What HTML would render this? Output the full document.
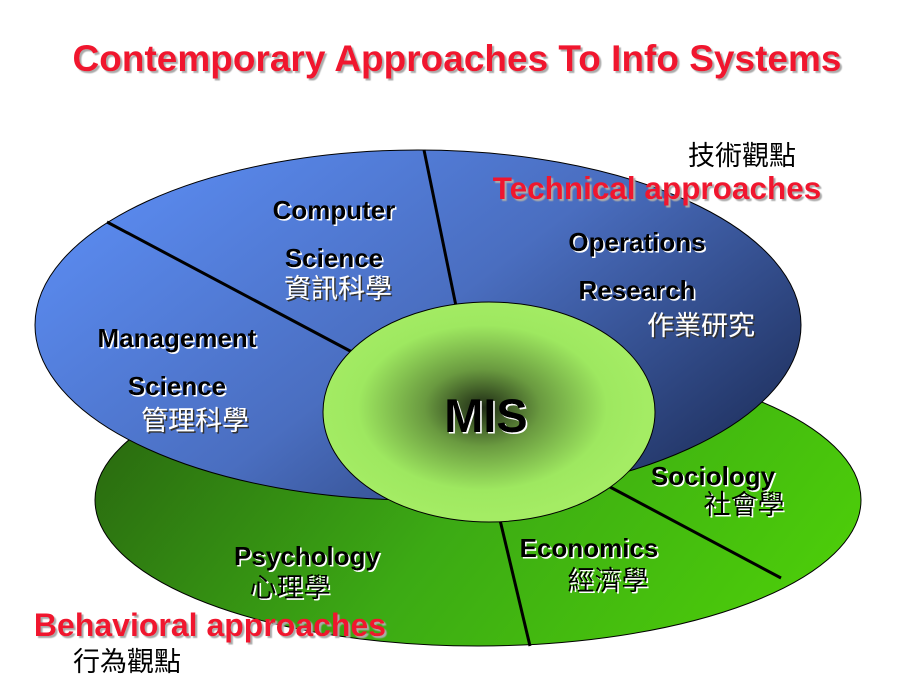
<!DOCTYPE html>
<html><head><meta charset="utf-8"><style>
body{margin:0;background:#fff;}
svg{display:block;}
text{font-family:"Liberation Sans","Noto Sans CJK TC",sans-serif;}
.lb{font-weight:bold;font-size:26px;fill:#000;filter:url(#sh);}
.cw{font-size:27px;fill:#fff;filter:url(#shd);}
.cb{font-size:27px;fill:#000;filter:url(#sh);}
.red{font-weight:bold;fill:#f0142d;filter:url(#shg);}
</style></head><body>
<svg width="921" height="696" viewBox="0 0 921 696">
<defs>
<filter id="sh"><feDropShadow dx="1.5" dy="1.5" stdDeviation="0.3" flood-color="#fff"/></filter>
<filter id="shd"><feDropShadow dx="1.5" dy="1.5" stdDeviation="0.3" flood-color="#333"/></filter>
<filter id="shg"><feDropShadow dx="2" dy="2" stdDeviation="0.5" flood-color="#aaa"/></filter>
<linearGradient id="gg" x1="0" y1="0.3" x2="1" y2="0.6">
<stop offset="0" stop-color="#2a6a10"/><stop offset="0.5" stop-color="#3caa14"/><stop offset="1" stop-color="#4ccc0a"/></linearGradient>
<linearGradient id="bg" x1="0" y1="0.2" x2="1" y2="0.8">
<stop offset="0" stop-color="#5b8cf2"/><stop offset="0.5" stop-color="#4a6ec0"/><stop offset="1" stop-color="#1e2f5c"/></linearGradient>
<radialGradient id="cg" cx="0.48" cy="0.48" r="0.5">
<stop offset="0" stop-color="#1e2a14"/><stop offset="0.35" stop-color="#6a9a40"/><stop offset="0.75" stop-color="#9ee860"/><stop offset="1" stop-color="#a4ec64"/></radialGradient>
</defs>
<text x="457" y="71" text-anchor="middle" class="red" style="font-size:37px">Contemporary Approaches To Info Systems</text>
<ellipse cx="478" cy="500" rx="383" ry="146" fill="url(#gg)" stroke="#000" stroke-width="1"/>
<line x1="500" y1="520" x2="530" y2="646" stroke="#000" stroke-width="3"/>
<line x1="610" y1="487" x2="781" y2="578" stroke="#000" stroke-width="3"/>
<ellipse cx="418" cy="325" rx="383" ry="175" fill="url(#bg)" stroke="#000" stroke-width="1"/>
<line x1="107" y1="222" x2="352" y2="352" stroke="#000" stroke-width="3"/>
<line x1="424" y1="150" x2="456" y2="306" stroke="#000" stroke-width="3"/>
<ellipse cx="489" cy="412" rx="166" ry="110" fill="url(#cg)" stroke="#000" stroke-width="1"/>
<text x="486" y="432" text-anchor="middle" class="lb" style="font-size:47px">MIS</text>
<text x="334" y="219" text-anchor="middle" class="lb">Computer</text>
<text x="334" y="267" text-anchor="middle" class="lb">Science</text>
<text x="338" y="298" text-anchor="middle" class="cw">資訊科學</text>
<text x="637" y="251" text-anchor="middle" class="lb">Operations</text>
<text x="637" y="299" text-anchor="middle" class="lb">Research</text>
<text x="701" y="335" text-anchor="middle" class="cw">作業研究</text>
<text x="177" y="347" text-anchor="middle" class="lb">Management</text>
<text x="177" y="395" text-anchor="middle" class="lb">Science</text>
<text x="195" y="430" text-anchor="middle" class="cw">管理科學</text>
<text x="713" y="485" text-anchor="middle" class="lb">Sociology</text>
<text x="744" y="514" text-anchor="middle" class="cb">社會學</text>
<text x="589" y="557" text-anchor="middle" class="lb">Economics</text>
<text x="608" y="590" text-anchor="middle" class="cb">經濟學</text>
<text x="307" y="565" text-anchor="middle" class="lb">Psychology</text>
<text x="290" y="597" text-anchor="middle" class="cb">心理學</text>
<text x="742" y="165" text-anchor="middle" style="font-size:27px" fill="#000">技術觀點</text>
<text x="657" y="199" text-anchor="middle" class="red" style="font-size:31.5px">Technical approaches</text>
<text x="210" y="636" text-anchor="middle" class="red" style="font-size:32px">Behavioral approaches</text>
<text x="127" y="671" text-anchor="middle" style="font-size:27px" fill="#000">行為觀點</text>
</svg>
</body></html>
